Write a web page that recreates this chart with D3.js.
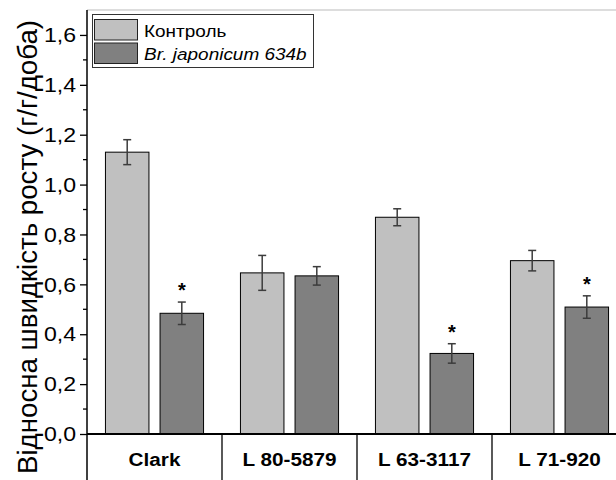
<!DOCTYPE html>
<html>
<head>
<meta charset="utf-8">
<script src="https://cdn.jsdelivr.net/npm/d3@7"></script>
<style>
  body { margin: 0; background: #fff; }
  text { font-family: "Liberation Sans", Arial, sans-serif; }
</style>
</head>
<body>
<div id="chart"></div>
<script>
var categories = ["Clark", "L 80-5879", "L 63-3117", "L 71-920"];
var seriesNames = ["Контроль", "Br. japonicum 634b"];
var controlValues = [1.13, 0.646, 0.869, 0.695];
var controlErrors = [0.05, 0.07, 0.034, 0.041];
var treatedValues = [0.484, 0.634, 0.323, 0.509];
var treatedErrors = [0.045, 0.037, 0.039, 0.045];
var treatedSignificant = [true, false, true, true];
var yTicks = [0, 0.2, 0.4, 0.6, 0.8, 1.0, 1.2, 1.4, 1.6];

var w = 616, h = 480;
var left = 87, zeroY = 434, topY = 10;
var sx = 1.1;   // the original text is a bit wider than Liberation Sans

var svg = d3.select("#chart").append("svg")
    .attr("width", w)
    .attr("height", h);

var xScale = d3.scaleBand()
    .domain(categories)
    .range([left, left + 540]);

var yScale = d3.scaleLinear()
    .domain([0, 1.7])
    .range([zeroY, topY]);

var offset = 27.3, barW = 43.5;

var series = [
    { name: seriesNames[0], values: controlValues, errors: controlErrors, color: "#c0c0c0", dx: -offset },
    { name: seriesNames[1], values: treatedValues, errors: treatedErrors, color: "#808080", dx: offset }
];

// top frame line
svg.append("line")
    .attr("x1", left).attr("x2", w)
    .attr("y1", yScale(1.7)).attr("y2", yScale(1.7))
    .attr("stroke", "#bbbbbb");

// bars
series.forEach(function(s, si) {
    var g = svg.append("g");
    g.selectAll("rect")
        .data(s.values)
        .enter().append("rect")
        .attr("x", function(d, i) { return xScale.bandwidth() / 2 + xScale(categories[i]) + s.dx - barW / 2; })
        .attr("y", function(d) { return yScale(d); })
        .attr("width", barW)
        .attr("height", function(d) { return zeroY - yScale(d); })
        .attr("fill", s.color)
        .attr("stroke", "#000")
        .attr("stroke-width", 1);

    // error bars
    s.values.forEach(function(d, i) {
        var cx = xScale(categories[i]) + xScale.bandwidth() / 2 + s.dx;
        var e = s.errors[i];
        var eg = g.append("g").attr("stroke", "#3c3c3c").attr("stroke-width", 1.5);
        eg.append("line").attr("x1", cx).attr("x2", cx)
            .attr("y1", yScale(d + e)).attr("y2", yScale(d - e));
        eg.append("line").attr("x1", cx - 4).attr("x2", cx + 4)
            .attr("y1", yScale(d + e)).attr("y2", yScale(d + e));
        eg.append("line").attr("x1", cx - 4).attr("x2", cx + 4)
            .attr("y1", yScale(d - e)).attr("y2", yScale(d - e));
        if (si === 1 && treatedSignificant[i]) {
            g.append("text")
                .attr("x", cx)
                .attr("y", yScale(d + e) - 5)
                .attr("text-anchor", "middle")
                .attr("font-size", 20)
                .attr("font-weight", "bold")
                .text("*");
        }
    });
});

// y axis
var yAxis = d3.axisLeft(yScale)
    .tickValues(yTicks)
    .tickSize(7)
    .tickPadding(0)
    .tickFormat(function(d) { return d3.format(".1f")(d).replace(".", ","); });

var yg = svg.append("g")
    .attr("transform", "translate(" + left + ",0)")
    .attr("font-size", 21)
    .call(yAxis);
yg.select(".domain").remove();
yg.selectAll("text")
    .attr("x", -11 / sx)
    .attr("transform", "scale(" + sx + ",1)")
    .style("font-size", "21px")
    .attr("font-family", "Liberation Sans, Arial, sans-serif")
    .attr("fill", "#000");
yg.selectAll("line").attr("stroke-width", 1.3);

var minor = d3.range(1, 17, 2).map(function(d) { return d / 10; });
svg.append("g").selectAll("line")
    .data(minor)
    .enter().append("line")
    .attr("x1", left - 4).attr("x2", left)
    .attr("y1", function(d) { return yScale(d); })
    .attr("y2", function(d) { return yScale(d); })
    .attr("stroke", "#000").attr("stroke-width", 1.3);

svg.append("line")
    .attr("x1", left).attr("x2", left)
    .attr("y1", topY).attr("y2", h)
    .attr("stroke", "#000").attr("stroke-width", 1.5);

// zero line
svg.append("line")
    .attr("x1", left).attr("x2", w)
    .attr("y1", zeroY).attr("y2", zeroY)
    .attr("stroke", "#000").attr("stroke-width", 2);

// category separators and labels
categories.forEach(function(c, i) {
    if (i > 0) {
        svg.append("line")
            .attr("x1", xScale(c)).attr("x2", xScale(c))
            .attr("y1", zeroY).attr("y2", h)
            .attr("stroke", "#000").attr("stroke-width", 1.3);
    }
    svg.append("text")
        .attr("transform", "translate(" + (xScale(c) + xScale.bandwidth() / 2) + ",466) scale(1.12,1)")
        .attr("text-anchor", "middle")
        .attr("font-size", 18.5)
        .attr("font-weight", "bold")
        .text(c);
});

// y label
svg.append("text")
    .attr("transform", "translate(37,247) scale(1.12,1) rotate(-90)")
    .attr("text-anchor", "middle")
    .attr("font-size", 24.5)
    .attr("textLength", 454)
    .attr("lengthAdjust", "spacingAndGlyphs")
    .text("Відносна швидкість росту (г/г/доба)");

// legend
var lg = svg.append("g");
lg.append("rect")
    .attr("x", 92.5).attr("y", 14.5)
    .attr("width", 221).attr("height", 53)
    .attr("fill", "#fff").attr("stroke", "#333").attr("stroke-width", 1);
series.forEach(function(s, i) {
    lg.append("rect")
        .attr("x", 94.5).attr("y", 19.5 + i * 23.5)
        .attr("width", 43).attr("height", 20.5)
        .attr("fill", s.color).attr("stroke", "#222").attr("stroke-width", 1);
    lg.append("text")
        .attr("transform", "translate(144," + (36.5 + i * 23) + ") scale(1.15,1)")
        .attr("font-size", 16.5)
        .attr("font-style", i === 1 ? "italic" : "normal")
        .text(s.name);
});
</script>
</body>
</html>
